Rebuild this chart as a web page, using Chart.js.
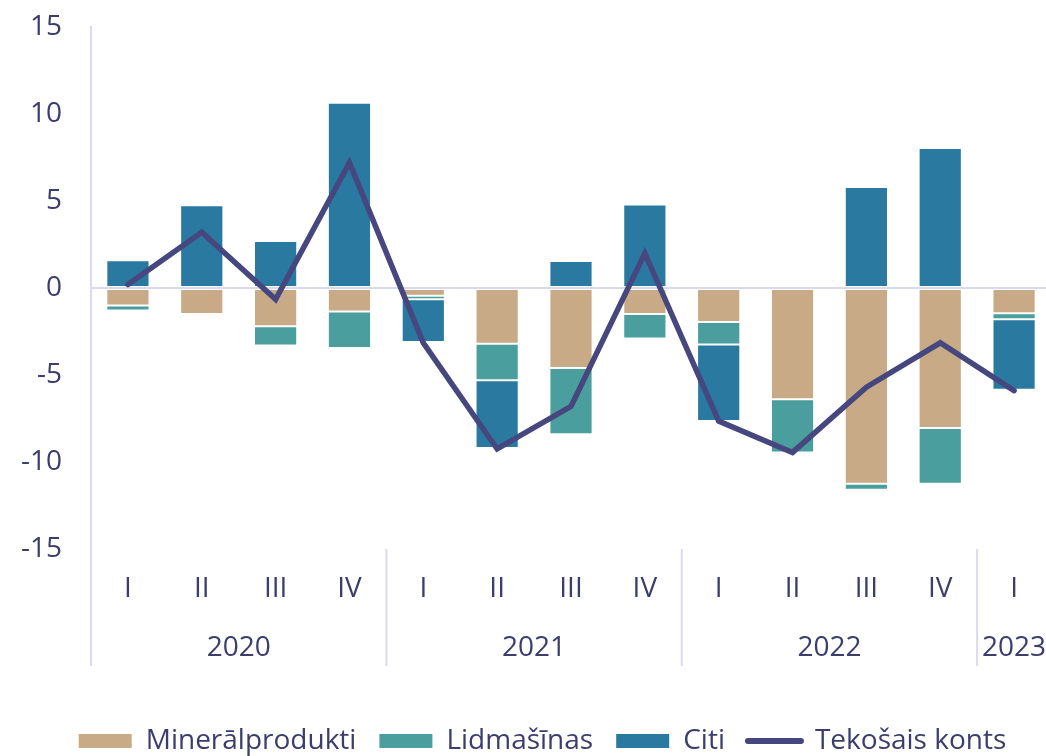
<!DOCTYPE html>
<html>
<head>
<meta charset="utf-8">
<script src="https://cdn.jsdelivr.net/npm/chart.js@4/dist/chart.umd.min.js"></script>
<style>
  html, body { margin: 0; padding: 0; background: #ffffff; overflow: hidden; }
  canvas { display: block; }
</style>
</head>
<body>
<canvas id="c" width="1052" height="756"></canvas>
<script>
// ---- data ----
const quarters = ['I', 'II', 'III', 'IV', 'I', 'II', 'III', 'IV', 'I', 'II', 'III', 'IV', 'I'];
const yearLabels = ['2020', '2021', '2022', '2023'];
const yearSpans = [4, 4, 4, 1];
const mineralprodukti = [-1.0, -1.5, -2.2, -1.35, -0.45, -3.2, -4.6, -1.5, -1.95, -6.4, -11.25, -8.05, -1.45];
const lidmasinas = [-0.3, -0.1, -1.1, -2.1, -0.2, -2.1, -3.8, -1.4, -1.3, -3.05, -0.35, -3.2, -0.35];
const citi = [1.6, 4.75, 2.7, 10.65, -2.45, -3.9, 1.55, 4.8, -4.4, 0, 5.8, 8.05, -4.05];
const tekosaisKonts = [0.2, 3.2, -0.65, 7.2, -3.15, -9.25, -6.8, 2.0, -7.65, -9.45, -5.7, -3.15, -5.9];
const yTicks = [-15, -10, -5, 0, 5, 10, 15];

const TEXT = '#3C3D6E';
const AXIS = '#DADAEE';
const FONT = '"Open Sans", "DejaVu Sans", sans-serif';

const yearPlugin = {
  id: 'yearGroups',
  afterLayout(chart) {
    // shift legend block to match the reference's horizontal placement
    if (chart.legend) { chart.legend.left += 17; chart.legend.right += 17; }
  },
  afterDraw(chart) {
    const xs = chart.scales.x;
    const ctx = chart.ctx;
    const n = quarters.length;
    const half = xs.width / n / 2;
    const top = chart.chartArea.bottom;
    ctx.save();
    ctx.strokeStyle = AXIS;
    ctx.lineWidth = 2;
    ctx.fillStyle = TEXT;
    ctx.font = '28px ' + FONT;
    ctx.textAlign = 'center';
    ctx.textBaseline = 'middle';
    let start = 0;
    yearLabels.forEach((lab, g) => {
      const span = yearSpans[g];
      const x0 = xs.getPixelForValue(start) - half;
      ctx.beginPath();
      ctx.moveTo(x0, top);
      ctx.lineTo(x0, 666);
      ctx.stroke();
      const cx = (xs.getPixelForValue(start) + xs.getPixelForValue(start + span - 1)) / 2;
      ctx.fillText(lab, cx, 648);
      start += span;
    });
    const xe = xs.getPixelForValue(n - 1) + half;
    ctx.beginPath();
    ctx.moveTo(xe, top);
    ctx.lineTo(xe, 666);
    ctx.stroke();
    ctx.restore();
  }
};

const barCommon = {
  type: 'bar',
  stack: 'bars',
  order: 1,
  borderWidth: 1,
  borderSkipped: false,
  borderColor: 'rgba(255,255,255,0.2)',
  categoryPercentage: 1.0,
  barPercentage: 0.585
};

new Chart(document.getElementById('c'), {
  data: {
    labels: quarters,
    datasets: [
      Object.assign({}, barCommon, { label: 'Minerālprodukti', data: mineralprodukti, backgroundColor: '#C9AA86' }),
      Object.assign({}, barCommon, { label: 'Lidmašīnas', data: lidmasinas, backgroundColor: '#4A9E9D' }),
      Object.assign({}, barCommon, { label: 'Citi', data: citi, backgroundColor: '#2A79A0' }),
      {
        type: 'line',
        label: 'Tekošais konts',
        data: tekosaisKonts,
        stack: 'line',
        order: 0,
        borderColor: '#46477E',
        backgroundColor: '#46477E',
        borderWidth: 5.5,
        tension: 0,
        pointRadius: 0,
        pointHoverRadius: 0,
        borderCapStyle: 'round',
        borderJoinStyle: 'miter',
        fill: false
      }
    ]
  },
  options: {
    responsive: false,
    animation: false,
    devicePixelRatio: 1,
    layout: { padding: { left: 0, right: 1, top: 27, bottom: -9 } },
    scales: {
      x: {
        type: 'category',
        stacked: true,
        grid: { display: false, drawTicks: false },
        border: { display: false },
        ticks: { color: TEXT, font: { family: FONT, size: 28 }, padding: 23, maxRotation: 0, autoSkip: false },
        afterFit(scale) { scale.height = 155; }
      },
      y: {
        stacked: true,
        min: -15,
        max: 15,
        afterBuildTicks(scale) { scale.ticks = yTicks.map(v => ({ value: v })); },
        ticks: { color: TEXT, font: { family: FONT, size: 28 }, padding: 29, callback: (v) => String(v) },
        grid: {
          drawTicks: false,
          lineWidth: 2,
          color: (c) => (c.tick && c.tick.value === 0 ? AXIS : 'rgba(0,0,0,0)')
        },
        border: { display: true, color: AXIS, width: 2 },
        afterFit(scale) { scale.width = 91; scale.paddingTop = 17; scale.paddingBottom = 17; }
      }
    },
    plugins: {
      tooltip: { enabled: false },
      legend: {
        position: 'bottom',
        labels: {
          usePointStyle: true,
          pointStyleWidth: 53,
          boxHeight: 14,
          padding: 23,
          color: TEXT,
          font: { family: FONT, size: 28 },
          sort: (a, b) => a.datasetIndex - b.datasetIndex,
          generateLabels(chart) {
            const items = Chart.defaults.plugins.legend.labels.generateLabels(chart);
            items.forEach(it => {
              const ds = chart.data.datasets[it.datasetIndex];
              if (ds.type === 'line') {
                it.pointStyle = 'line';
                it.lineWidth = 6;
                it.strokeStyle = ds.borderColor;
                it.fillStyle = ds.borderColor;
                it.lineCap = 'round';
              } else {
                it.pointStyle = 'rect';
                it.lineWidth = 0;
                it.fillStyle = ds.backgroundColor;
                it.strokeStyle = ds.backgroundColor;
              }
            });
            return items;
          }
        }
      }
    }
  },
  plugins: [yearPlugin]
});
</script>
</body>
</html>
